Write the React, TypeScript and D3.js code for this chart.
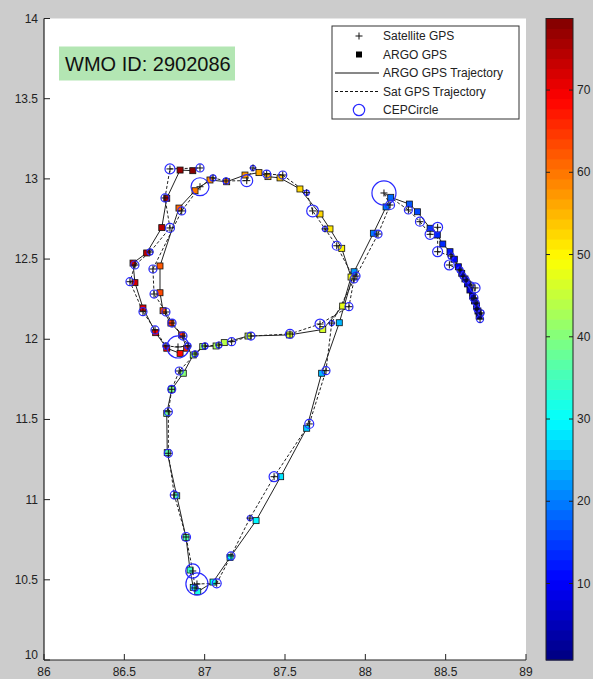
import * as d3 from 'd3';
import React from 'react';

// ARGO GPS fixes (lon, lat) and the cycle number used for colour
const argoLon = [88.708, 88.701, 88.692, 88.679, 88.667, 88.651, 88.636, 88.620, 88.600, 88.579, 88.554, 88.527, 88.482, 88.448, 88.403, 88.324, 88.274, 88.158, 88.129, 88.050, 87.930, 87.838, 87.728, 87.635, 87.473, 87.320, 87.158, 87.052, 86.957, 86.929, 86.909, 86.884, 86.826, 86.767, 86.764, 86.795, 86.867, 86.929, 86.988, 87.071, 87.122, 87.270, 87.527, 87.735, 87.859, 87.911, 87.853, 87.780, 87.718, 87.593, 87.469, 87.394, 87.338, 87.251, 87.137, 87.033, 86.940, 86.840, 86.722, 86.722, 86.741, 86.790, 86.857, 86.888, 86.847, 86.764, 86.695, 86.616, 86.566, 86.554, 86.639, 86.733, 86.764, 86.847, 86.926];
const argoLat = [12.145, 12.176, 12.207, 12.239, 12.270, 12.307, 12.345, 12.376, 12.411, 12.452, 12.499, 12.546, 12.594, 12.650, 12.692, 12.795, 12.843, 12.885, 12.825, 12.661, 12.421, 12.103, 11.788, 11.445, 11.143, 10.869, 10.640, 10.486, 10.426, 10.453, 10.561, 10.763, 11.024, 11.293, 11.538, 11.688, 11.788, 11.902, 11.954, 11.958, 11.979, 12.020, 12.027, 12.061, 12.207, 12.388, 12.567, 12.688, 12.781, 12.937, 13.006, 13.014, 13.039, 13.024, 12.982, 12.993, 12.926, 12.818, 12.457, 12.290, 12.178, 12.101, 12.027, 11.944, 11.912, 11.944, 12.041, 12.195, 12.353, 12.475, 12.538, 12.696, 12.879, 13.055, 13.051];
const argoCycle = [1, 2, 3, 4, 5, 6, 7, 8, 9, 10, 11, 12, 13, 14, 15, 16, 17, 18, 19, 20, 22, 24, 25, 26, 28, 29, 30, 31, 32, 33, 34, 35, 36, 37, 38, 39, 40, 41, 42, 43, 44, 45, 46, 47, 48, 49, 50, 51, 52, 53, 54, 55, 56, 57, 58, 59, 60, 61, 62, 63, 64, 65, 66, 67, 68, 69, 70, 71, 72, 73, 74, 75, 76, 77, 78];

// Satellite GPS fixes and their CEP radius (degrees)
const satLon = [88.714, 88.720, 88.695, 88.689, 88.676, 88.683, 88.658, 88.627, 88.608, 88.589, 88.523, 88.533, 88.450, 88.450, 88.403, 88.340, 88.268, 88.116, 88.154, 88.079, 87.942, 87.791, 87.755, 87.651, 87.432, 87.282, 87.164, 87.075, 86.952, 86.940, 86.926, 86.884, 86.811, 86.774, 86.774, 86.795, 86.842, 86.940, 87.002, 87.089, 87.168, 87.288, 87.531, 87.718, 87.898, 87.930, 87.822, 87.749, 87.672, 87.635, 87.486, 87.386, 87.301, 87.262, 87.133, 87.052, 86.971, 86.857, 86.678, 86.685, 86.759, 86.797, 86.865, 86.896, 86.834, 86.759, 86.691, 86.616, 86.535, 86.566, 86.660, 86.784, 86.753, 86.784, 86.971];
const satLat = [12.126, 12.164, 12.189, 12.226, 12.257, 12.320, 12.338, 12.370, 12.394, 12.432, 12.463, 12.519, 12.546, 12.698, 12.654, 12.733, 12.806, 12.912, 12.837, 12.656, 12.394, 12.101, 11.804, 11.472, 11.143, 10.885, 10.649, 10.478, 10.474, 10.449, 10.555, 10.767, 11.029, 11.289, 11.548, 11.688, 11.802, 11.908, 11.958, 11.964, 11.985, 12.020, 12.033, 12.095, 12.203, 12.376, 12.583, 12.688, 12.800, 12.914, 13.024, 13.030, 13.068, 12.989, 12.987, 13.006, 12.951, 12.800, 12.438, 12.282, 12.170, 12.101, 12.020, 11.958, 11.952, 11.958, 12.058, 12.172, 12.359, 12.463, 12.544, 12.694, 12.881, 13.062, 13.068];
const cepRadius = [0.022, 0.019, 0.019, 0.019, 0.025, 0.031, 0.019, 0.019, 0.019, 0.019, 0.031, 0.019, 0.031, 0.031, 0.031, 0.028, 0.025, 0.075, 0.028, 0.025, 0.025, 0.016, 0.025, 0.028, 0.031, 0.016, 0.025, 0.028, 0.069, 0.019, 0.044, 0.028, 0.025, 0.025, 0.025, 0.025, 0.025, 0.019, 0.019, 0.019, 0.025, 0.025, 0.028, 0.031, 0.025, 0.025, 0.028, 0.016, 0.037, 0.016, 0.025, 0.025, 0.016, 0.037, 0.019, 0.019, 0.056, 0.025, 0.025, 0.025, 0.025, 0.025, 0.025, 0.019, 0.069, 0.019, 0.025, 0.025, 0.025, 0.025, 0.019, 0.028, 0.025, 0.031, 0.025];

const xTicks = [86, 86.5, 87, 87.5, 88, 88.5, 89];
const yTicks = [10, 10.5, 11, 11.5, 12, 12.5, 13, 13.5, 14];
const cbTicks = [10, 20, 30, 40, 50, 60, 70];
const cbRange = [0.7, 78.7];

const legendItems = ['Satellite GPS', 'ARGO GPS', 'ARGO GPS Trajectory', 'Sat GPS Trajectory', 'CEPCircle'];
const titleText = 'WMO ID: 2902086';

const W = 593;
const H = 679;
const font = "'Liberation Sans', Arial, sans-serif";

// matlab style jet
function jet(t: number) {
    const c = (v: number) => Math.round(255 * Math.max(0, Math.min(1, v)));
    const r = c(1.5 - Math.abs(4 * t - 3));
    const g = c(1.5 - Math.abs(4 * t - 2));
    const b = c(1.5 - Math.abs(4 * t - 1));
    return `rgb(${r},${g},${b})`;
}

const App = () => {
    const plot = { left: 44, right: 526, top: 18.5, bottom: 660 };
    const cb = { left: 546, right: 573 };

    const x = d3.scaleLinear().domain([86, 89]).range([plot.left, plot.right]);
    const y = d3.scaleLinear().domain([10, 14]).range([plot.bottom, plot.top]);
    const cy = d3.scaleLinear().domain(cbRange).range([plot.bottom, plot.top]);
    const nColors = 64;
    const colorOf = (v: number) => {
        const t = (v - cbRange[0]) / (cbRange[1] - cbRange[0]);
        const k = Math.min(nColors - 1, Math.max(0, Math.floor(t * nColors)));
        return jet((k + 0.5) / nColors);
    };

    const argoPts = argoLon.map((lon, i) => [lon, argoLat[i]] as [number, number]);
    const satPts = satLon.map((lon, i) => [lon, satLat[i]] as [number, number]);
    const line = d3.line<[number, number]>().x((d) => x(d[0])).y((d) => y(d[1]));

    const sq = 6;
    const cr = 3.5;
    const bands = d3.range(nColors);
    const bandH = (plot.bottom - plot.top) / nColors;

    const lg = { x: 332, y: 26, w: 187, h: 93 };
    const rowY = (i: number) => lg.y + 10 + i * 18.5;

    return (
        <svg width={W} height={H} style={{ position: 'absolute', left: 0, top: 0, display: 'block' }}>
            <rect x={0} y={0} width={W} height={H} fill="#cccccc" />
            <rect x={plot.left} y={plot.top} width={plot.right - plot.left} height={plot.bottom - plot.top} fill="#ffffff" />

            {/* trajectories */}
            <path d={line(satPts) || ''} fill="none" stroke="#222" strokeWidth={1} strokeDasharray="3,2" />
            <path d={line(argoPts) || ''} fill="none" stroke="#222" strokeWidth={1} />

            {/* argo squares */}
            {argoPts.map((d, i) => (
                <rect key={'a' + i} x={x(d[0]) - sq / 2} y={y(d[1]) - sq / 2} width={sq} height={sq}
                    fill={colorOf(argoCycle[i])} stroke="#111" strokeWidth={0.8} />
            ))}

            {/* CEP circles */}
            {satPts.map((d, i) => (
                <circle key={'c' + i} cx={x(d[0])} cy={y(d[1])} r={Math.abs(y(10) - y(10 + cepRadius[i]))}
                    fill="none" stroke="#2a2aff" strokeWidth={1.2} />
            ))}

            {/* satellite crosses */}
            {satPts.map((d, i) => (
                <path key={'s' + i} d={`M${x(d[0]) - cr},${y(d[1])}H${x(d[0]) + cr}M${x(d[0])},${y(d[1]) - cr}V${y(d[1]) + cr}`}
                    stroke="#111" strokeWidth={1} />
            ))}

            {/* axes */}
            <line x1={plot.left} x2={plot.left} y1={plot.top} y2={plot.bottom} stroke="#222" strokeWidth={1.2} />
            <line x1={plot.left} x2={plot.right} y1={plot.bottom} y2={plot.bottom} stroke="#222" strokeWidth={1.2} />
            {xTicks.map((t) => (
                <g key={'xt' + t}>
                    <line x1={x(t)} x2={x(t)} y1={plot.bottom} y2={plot.bottom - 6} stroke="#222" />
                    <text x={x(t)} y={plot.bottom + 16} textAnchor="middle" fontSize={12} fontFamily={font} fill="#222">{t}</text>
                </g>
            ))}
            {yTicks.map((t) => (
                <g key={'yt' + t}>
                    <line x1={plot.left} x2={plot.left + 6} y1={y(t)} y2={y(t)} stroke="#222" />
                    <text x={plot.left - 6} y={y(t) + (t === 10 ? -1 : 4)} textAnchor="end" fontSize={12} fontFamily={font} fill="#222">{t}</text>
                </g>
            ))}

            {/* title box */}
            <rect x={59} y={46.5} width={176} height={34} fill="#b3e6b3" />
            <text x={65} y={71} fontSize={20} fontFamily={font} fill="#111">{titleText}</text>

            {/* legend */}
            <rect x={lg.x} y={lg.y} width={lg.w} height={lg.h} fill="#fff" stroke="#333" strokeWidth={1} />
            {legendItems.map((s, i) => (
                <text key={'l' + i} x={lg.x + 51} y={rowY(i) + 4} fontSize={12} fontFamily={font} fill="#222">{s}</text>
            ))}
            <path d={`M${lg.x + 23.5},${rowY(0)}h7M${lg.x + 27},${rowY(0) - 3.5}v7`} stroke="#111" strokeWidth={1} />
            <rect x={lg.x + 24} y={rowY(1) - 3} width={6} height={6} fill="#000" />
            <line x1={lg.x + 3} x2={lg.x + 47} y1={rowY(2)} y2={rowY(2)} stroke="#111" />
            <line x1={lg.x + 3} x2={lg.x + 47} y1={rowY(3)} y2={rowY(3)} stroke="#111" strokeDasharray="3,2" />
            <circle cx={lg.x + 27} cy={rowY(4)} r={5.7} fill="none" stroke="#2a2aff" strokeWidth={1.2} />

            {/* colorbar */}
            {bands.map((k) => (
                <rect key={'b' + k} x={cb.left} y={plot.bottom - (k + 1) * bandH} width={cb.right - cb.left} height={bandH + 0.5}
                    fill={jet((k + 0.5) / nColors)} />
            ))}
            <rect x={cb.left} y={plot.top} width={cb.right - cb.left} height={plot.bottom - plot.top} fill="none" stroke="#222" strokeWidth={1} />
            {cbTicks.map((t) => (
                <g key={'cb' + t}>
                    <line x1={cb.left} x2={cb.left + 4} y1={cy(t)} y2={cy(t)} stroke="#222" />
                    <line x1={cb.right - 4} x2={cb.right} y1={cy(t)} y2={cy(t)} stroke="#222" />
                    <text x={cb.right + 4} y={cy(t) + 4} fontSize={12} fontFamily={font} fill="#222">{t}</text>
                </g>
            ))}
        </svg>
    );
};

export default App;
